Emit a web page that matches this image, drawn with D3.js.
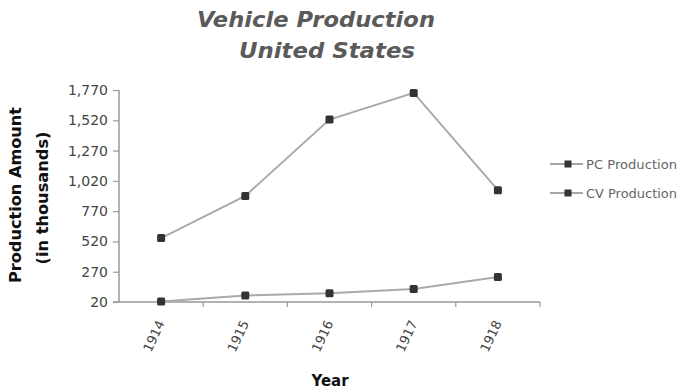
<!DOCTYPE html>
<html><head><meta charset="utf-8">
<script src="https://cdn.jsdelivr.net/npm/d3@7"></script>
<style>
html,body{margin:0;padding:0;background:#fff;}
svg{display:block;font-family:"DejaVu Sans",Verdana,sans-serif;}
</style></head>
<body><svg id="c" width="683" height="392"></svg>
<script>
const years = ["1914","1915","1916","1917","1918"];
const pcProduction = [548, 896, 1526, 1746, 943];
const cvProduction = [25, 74, 92, 128, 227];
const yTicks = [20, 270, 520, 770, 1020, 1270, 1520, 1770];
const seriesNames = ["PC Production", "CV Production"];

(function(){
const svg = d3.select("#c");
const pLeft = 119, pRight = 540, pTop = 90, pBottom = 302;

const x = d3.scaleBand().domain(years).range([pLeft, pRight]);
const y = d3.scaleLinear().domain([20, 1770]).range([pBottom, pTop]);

// Title
svg.append("text").attr("x", 316).attr("y", 27).attr("text-anchor", "middle")
  .style("font-size", "22px").style("font-weight", "bold").style("font-style", "oblique")
  .attr("fill", "#5a5a5a").attr("textLength", 238).attr("lengthAdjust", "spacingAndGlyphs")
  .text("Vehicle Production");
svg.append("text").attr("x", 327).attr("y", 58).attr("text-anchor", "middle")
  .style("font-size", "22px").style("font-weight", "bold").style("font-style", "oblique")
  .attr("fill", "#5a5a5a").attr("textLength", 176).attr("lengthAdjust", "spacingAndGlyphs")
  .text("United States");

// Y axis
const yAxis = svg.append("g").attr("transform", `translate(${pLeft},0)`)
  .call(d3.axisLeft(y).tickValues(yTicks).tickFormat(d3.format(",")).tickSize(6).tickPadding(5));
yAxis.select(".domain").attr("stroke", "#999").attr("stroke-width", 1.5).attr("d", `M0,${pTop}V${pBottom}`);
yAxis.selectAll(".tick line").attr("stroke", "#999").attr("stroke-width", 1.2);
yAxis.selectAll(".tick text").attr("fill", "#444").style("font-size", "14px")
  .style("font-family", "'DejaVu Sans',sans-serif");

// X axis
const xAxis = svg.append("g").attr("transform", `translate(0,${pBottom})`)
  .call(d3.axisBottom(x).tickSize(0).tickFormat(d => d));
xAxis.select(".domain").attr("stroke", "#999").attr("stroke-width", 1.5).attr("d", `M${pLeft-6},0H${pRight}`);
xAxis.selectAll(".tick text")
  .attr("fill", "#444").style("font-size", "13px").style("font-family", "'DejaVu Sans',sans-serif")
  .attr("text-anchor", "end").attr("dy", null).attr("y", 0)
  .attr("transform", "translate(4,21) rotate(-65)");
// boundary tick marks
const bounds = years.map((d) => x(d) + x.bandwidth());
svg.append("g").selectAll("line").data(bounds).join("line")
  .attr("x1", d => d).attr("x2", d => d).attr("y1", pBottom).attr("y2", pBottom + 5)
  .attr("stroke", "#999").attr("stroke-width", 1.2);

// Axis titles
svg.append("text").attr("transform", "translate(21,195) rotate(-90)").attr("text-anchor", "middle")
  .style("font-size", "15px").style("font-weight", "bold").attr("fill", "#111")
  .attr("textLength", 176).attr("lengthAdjust", "spacingAndGlyphs").text("Production Amount");
svg.append("text").attr("transform", "translate(48,198) rotate(-90)").attr("text-anchor", "middle")
  .style("font-size", "15px").style("font-weight", "bold").attr("fill", "#111")
  .attr("textLength", 133).attr("lengthAdjust", "spacingAndGlyphs").text("(in thousands)");
svg.append("text").attr("x", 330).attr("y", 386).attr("text-anchor", "middle")
  .style("font-size", "15px").style("font-weight", "bold").attr("fill", "#111").text("Year");

// Lines
const cx = d => x(d) + x.bandwidth() / 2;
const line = d3.line().x((v, i) => cx(years[i])).y(v => y(v));
[pcProduction, cvProduction].forEach(s => {
  svg.append("path").attr("d", line(s)).attr("fill", "none")
    .attr("stroke", "#aaa").attr("stroke-width", 2);
});
[pcProduction, cvProduction].forEach(s => {
  svg.append("g").selectAll("rect").data(s).join("rect")
    .attr("x", (v, i) => cx(years[i]) - 4).attr("y", v => y(v) - 4)
    .attr("width", 8).attr("height", 8).attr("rx", 1.5).attr("fill", "#333");
});

// Legend
const legY = [164, 193];
seriesNames.forEach((n, i) => {
  const g = svg.append("g");
  g.append("line").attr("x1", 550).attr("x2", 583).attr("y1", legY[i]).attr("y2", legY[i])
    .attr("stroke", "#888").attr("stroke-width", 1.5);
  g.append("rect").attr("x", 568 - 3.5).attr("y", legY[i] - 3.5).attr("width", 7).attr("height", 7).attr("fill", "#333");
  g.append("text").attr("x", 586).attr("y", legY[i] + 4.5).style("font-size", "13px")
    .attr("fill", "#666").attr("textLength", 91).attr("lengthAdjust", "spacingAndGlyphs").text(n);
});
})();
</script></body></html>
